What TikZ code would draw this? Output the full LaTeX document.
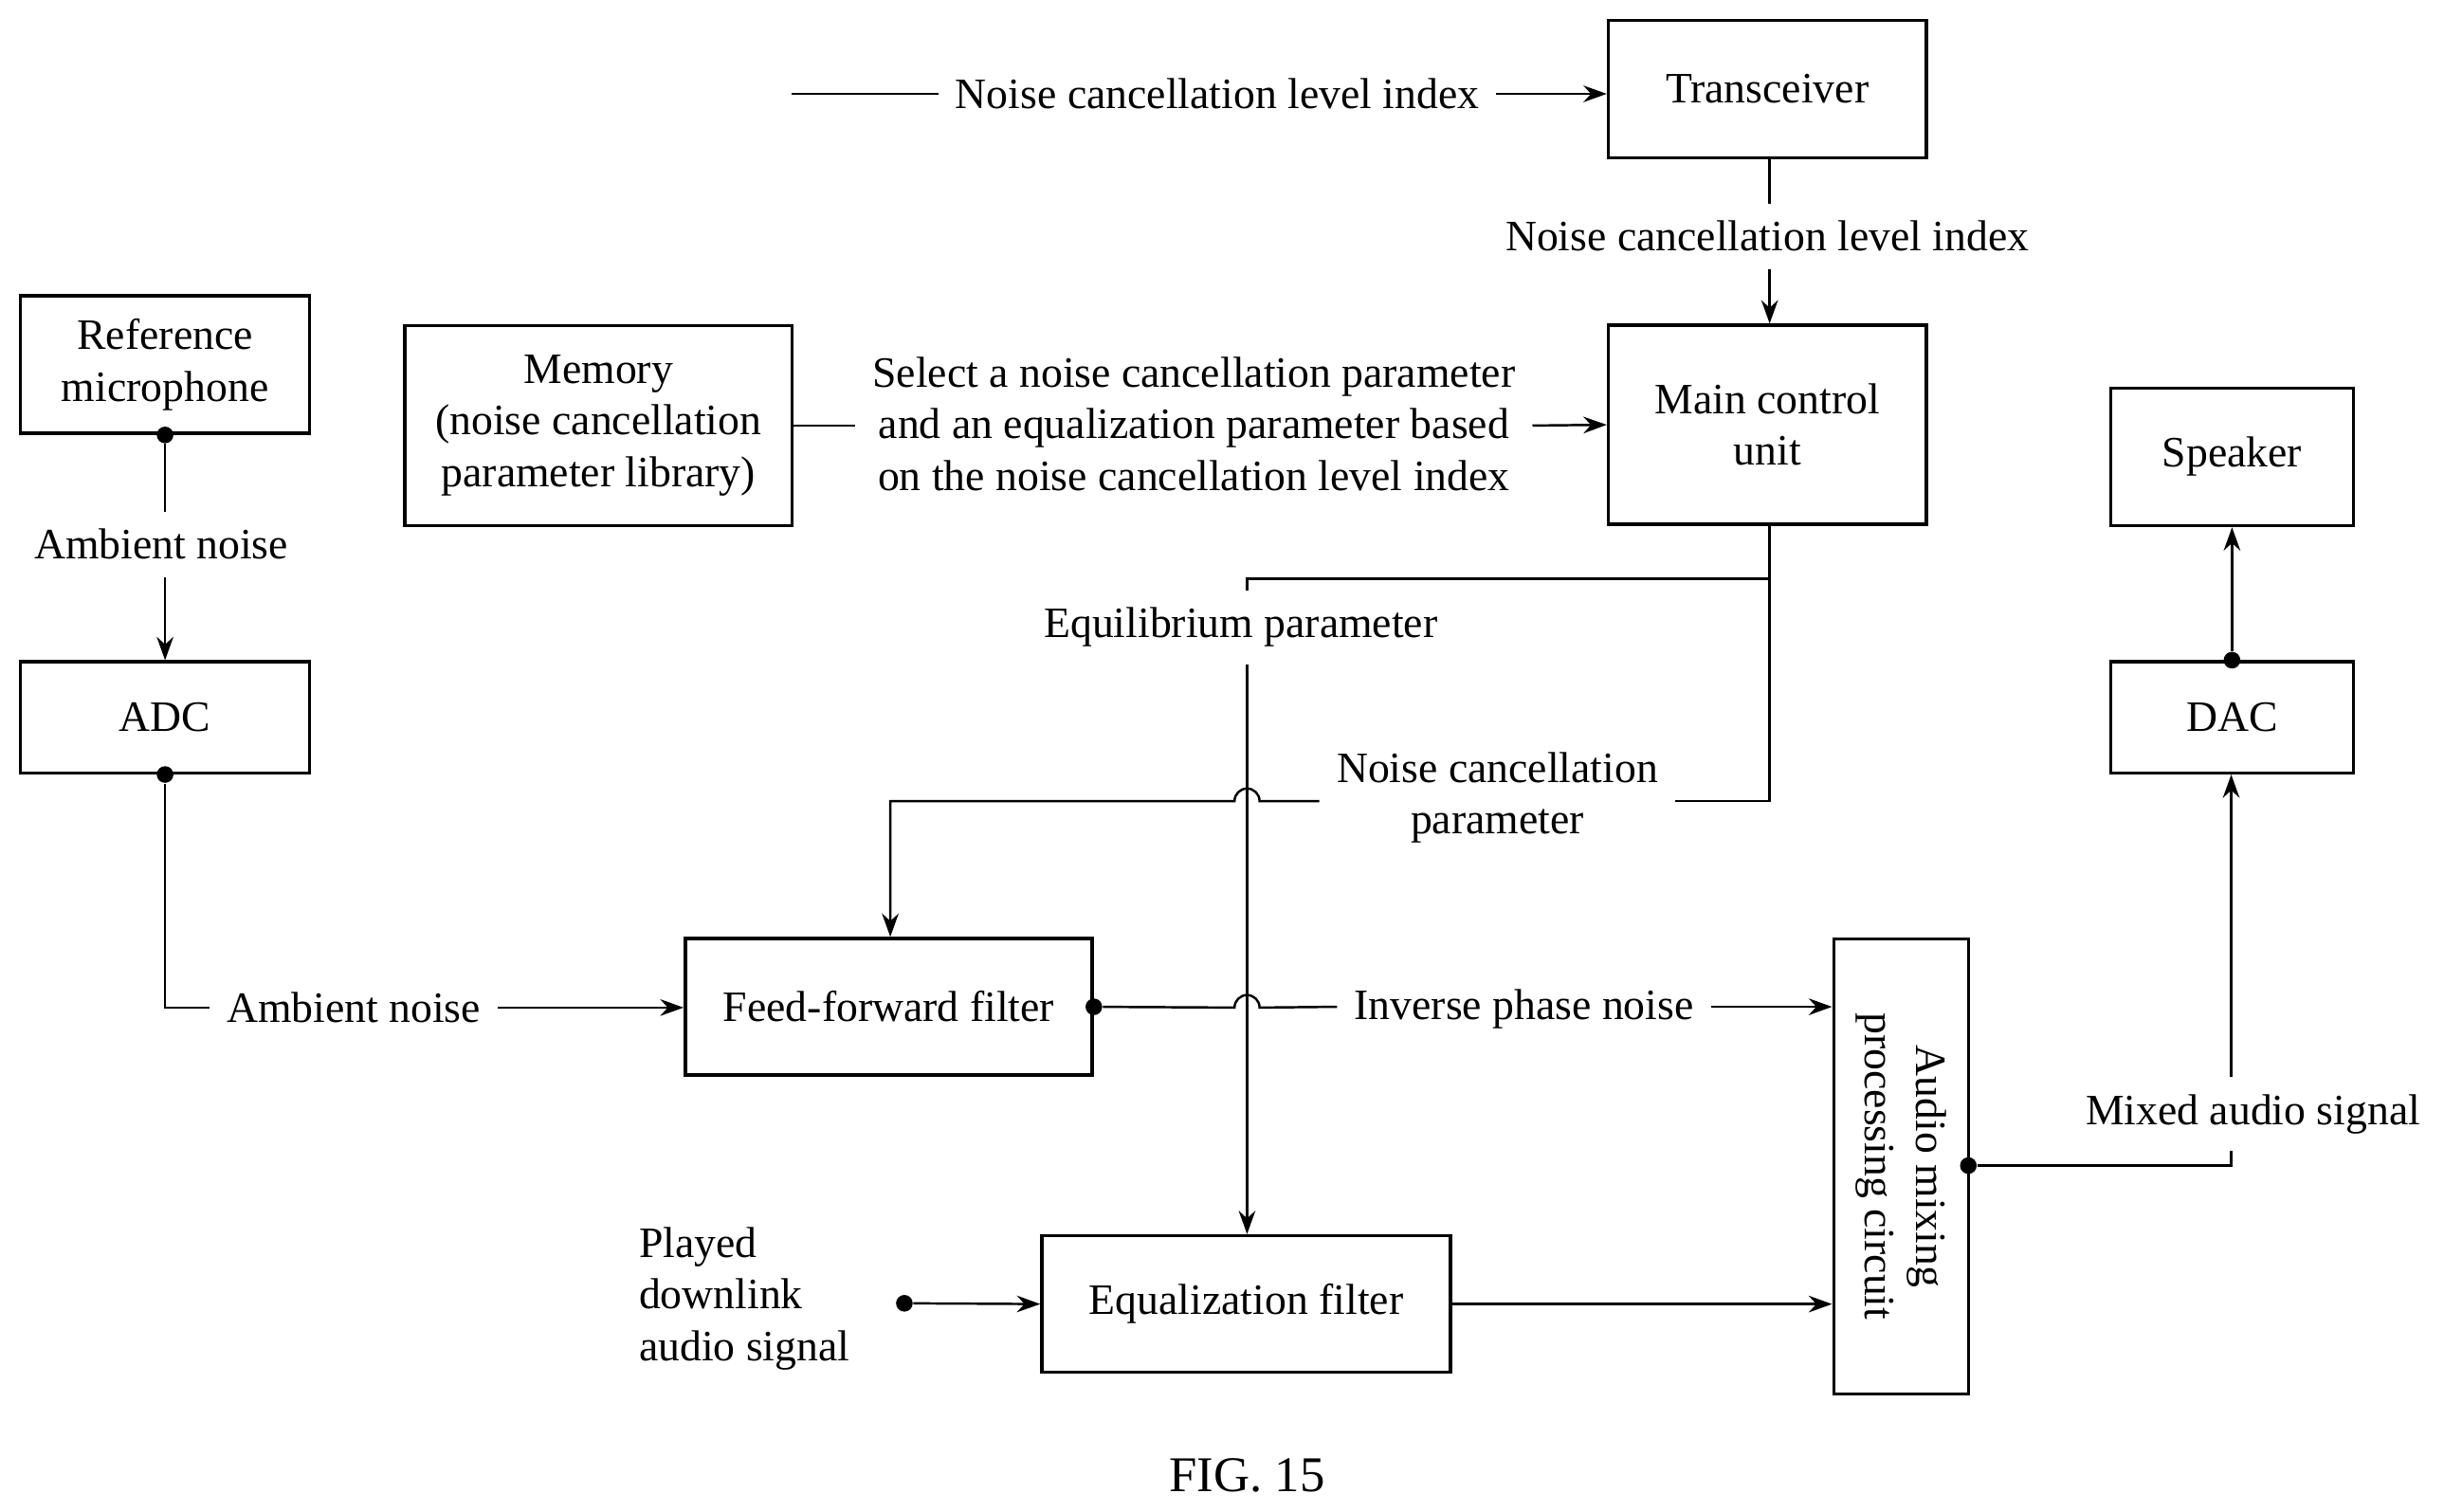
\documentclass[tikz,border=0pt]{standalone}
\usepackage{fontspec}
\setmainfont{Liberation Serif}
\usetikzlibrary{arrows.meta}
\begin{document}
\begin{tikzpicture}[x=0.0165cm,y=-0.0165cm,
  font=\fontsize{13}{15.5}\selectfont,
  box/.style={draw,line width=1pt,inner sep=0pt,align=center},
  lab/.style={inner sep=5pt,align=center},
  ln/.style={line width=0.7pt},
  arr/.style={ln,-{Stealth[length=7pt,width=5pt]}},
  dot/.style={circle,fill,inner sep=0pt,minimum size=5pt}]
\useasboundingbox (0,0) rectangle (1562,966);
% boxes
\node[box,minimum width=3.35cm,minimum height=1.45cm] (tr) at (1129.5,57) {Transceiver};
\node[box,minimum width=3.35cm,minimum height=2.10cm] (mc) at (1129.5,271.5) {Main control\\unit};
\node[box,minimum width=4.08cm,minimum height=2.11cm] (mem) at (382.5,272) {Memory\\(noise cancellation\\parameter library)};
\node[box,minimum width=3.05cm,minimum height=1.45cm] (rm) at (105.5,233) {Reference\\microphone};
\node[box,minimum width=3.05cm,minimum height=1.17cm] (adc) at (105.5,458.5) {ADC};
\node[box,minimum width=4.29cm,minimum height=1.44cm] (ff) at (568,643.5) {Feed-forward filter};
\node[box,minimum width=4.31cm,minimum height=1.44cm] (eq) at (796.5,833.5) {Equalization filter};
\node[box,minimum width=1.42cm,minimum height=4.80cm] (mix) at (1215,745.5) {};
\node[rotate=-90,align=center,inner sep=0pt] (mixt) at (mix.center) {Audio mixing\\processing circuit};
\node[box,minimum width=2.56cm,minimum height=1.17cm] (dac) at (1426.5,458.5) {DAC};
\node[box,minimum width=2.56cm,minimum height=1.45cm] (sp) at (1426.5,292) {Speaker};
% labels
\node[lab] (l1) at (778,60) {Noise cancellation level index};
\node[lab] (l2) at (1129.5,151) {Noise cancellation level index};
\node[lab] (l3) at (763,271) {Select a noise cancellation parameter\\and an equalization parameter based\\on the noise cancellation level index};
\node[lab] (l4) at (103,348) {Ambient noise};
\node[lab] (l5) at (226,644) {Ambient noise};
\node[lab] (l6) at (793,401) {Equilibrium parameter};
\node[lab] (l7) at (957,510) {Noise cancellation\\parameter};
\node[lab] (l8) at (974,645) {Inverse phase noise};
\node[lab] (l9) at (1440,712) {Mixed audio signal};
\node[align=left,inner sep=0pt,anchor=west] (l10) at (408,830) {Played\\downlink\\audio signal};
\node (fig) at (797,943) {\fontsize{15}{18}\selectfont FIG. 15};
% coordinates
\coordinate (t0) at (506,60);
\coordinate (j1) at (1131,370);
\coordinate (j2) at (797,370);
\coordinate (j3) at (1131,512);
\coordinate (k) at (569,512);
\coordinate (m0) at (1258,745);
\coordinate (m1) at (1426,745);
\coordinate (p0) at (578,833);
% connectors
\draw[ln] (t0) -- (l1.west);
\draw[arr] (l1.east) -- (tr.west |- l1.east);
\draw[ln] (tr.south -| j1) -- (l2.north -| j1);
\draw[arr] (l2.south -| j1) -- (mc.north -| j1);
\draw[ln] (mem.east) -- (l3.west |- mem.east);
\draw[arr] (l3.east |- mem.east) -- (mc.west);
\node[dot] (d1) at (rm.south) {};
\draw[ln] (d1) -- (l4.north -| d1);
\draw[arr] (l4.south -| d1) -- (adc.north);
\node[dot] (d2) at (adc.south) {};
\draw[ln] (d2) |- (l5.west);
\draw[arr] (l5.east) -- (ff.west |- l5.east);
\draw[ln] (mc.south -| j1) -- (j1) -- (j2) -- (l6.north -| j2);
\draw[arr] (l6.south -| j2) -- (eq.north -| j2);
\draw[ln] (j1) -- (j3) -- (l7.east |- j3);
\draw[arr] (l7.west |- j3) -- (805,512) arc (0:-180:8) -- (k) -- (ff.north -| k);
\node[dot] (d3) at (ff.east) {};
\draw[ln] (d3) -- (789,644) arc (180:360:8) -- (l8.west |- d3);
\draw[arr] (l8.east |- d3) -- (mix.west |- d3);
\node[dot] (d4) at (p0) {};
\draw[arr] (d4) -- (eq.west);
\draw[arr] (eq.east) -- (mix.west |- eq.east);
\node[dot] (d5) at (m0) {};
\draw[ln] (d5) -- (m1) -- (l9.south -| m1);
\draw[arr] (l9.north -| m1) -- (dac.south -| m1);
\node[dot] (d6) at (dac.north) {};
\draw[arr] (d6) -- (sp.south);
\end{tikzpicture}
\end{document}
